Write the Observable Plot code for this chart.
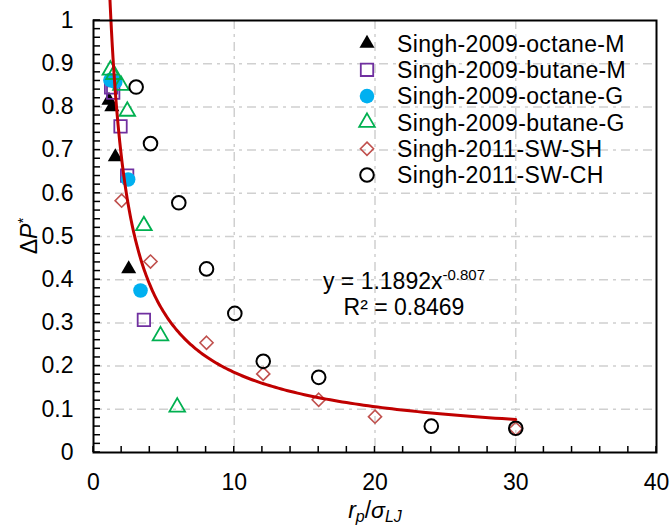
<!DOCTYPE html>
<html>
<head>
<meta charset="utf-8">
<script src="https://cdn.jsdelivr.net/npm/d3@7"></script>
<script src="https://cdn.jsdelivr.net/npm/@observablehq/plot@0.6"></script>
<style>
  body { margin: 0; background: white; }
  #wrap { position: relative; width: 670px; height: 529px; font-family: "Liberation Sans", Arial, sans-serif; }
  #overlay { position: absolute; left: 0; top: 0; pointer-events: none; }
</style>
</head>
<body>
<div id="wrap"></div>
<script>
// ---- data ----
const xTicks = [0, 10, 20, 30, 40];
const yTicks = [0, 0.1, 0.2, 0.3, 0.4, 0.5, 0.6, 0.7, 0.8, 0.9, 1];
const xGrid = [10, 20, 30];
const yGrid = [0.1, 0.2, 0.3, 0.4, 0.5, 0.6, 0.7, 0.8, 0.9];
const xMinor = d3.range(0, 40.001, 2);
const yMinor = d3.range(0, 1.0001, 0.02);

const seriesNames = ["Singh-2009-octane-M", "Singh-2009-butane-M", "Singh-2009-octane-G",
                     "Singh-2009-butane-G", "Singh-2011-SW-SH", "Singh-2011-SW-CH"];
const octaneM = [[1.1, 0.815], [1.3, 0.80], [1.55, 0.684], [2.5, 0.425]];
const butaneM = [[1.25, 0.845], [1.4, 0.833], [1.92, 0.755], [2.39, 0.641], [3.58, 0.307]];
const octaneG = [[1.2, 0.862], [1.55, 0.858], [2.46, 0.632], [3.34, 0.375]];
const butaneG = [[1.2, 0.885], [1.45, 0.875], [1.95, 0.85], [2.4, 0.79], [3.58, 0.525], [4.76, 0.27], [5.95, 0.105]];
const swSH = [[2.0, 0.583], [4.05, 0.442], [8.03, 0.254], [12.06, 0.182], [16.0, 0.122], [20.0, 0.083], [30, 0.055]];
const swCH = [[3.03, 0.846], [4.05, 0.715], [6.06, 0.578], [8.03, 0.425], [10.04, 0.322], [12.06, 0.211], [16, 0.174], [24, 0.061], [30, 0.056]];

// power-law trendline y = a * x^b, shown on the chart
const fitA = 1.1892, fitB = -0.807, fitR2 = 0.8469;
const fitRange = [1.1, 30];

// ---- styles ----
const styles = [
  {symbol: "triangle", fill: "black", stroke: "none", r: 5.6, sw: 0},
  {symbol: "square", fill: "none", stroke: "#7030A0", r: 7.0, sw: 1.8},
  {symbol: "circle", fill: "#00B0F0", stroke: "none", r: 7.3, sw: 0},
  {symbol: "triangle", fill: "none", stroke: "#00B050", r: 5.8, sw: 1.8},
  {symbol: "diamond2", fill: "none", stroke: "#C0504D", r: 5.9, sw: 1.6},
  {symbol: "circle", fill: "none", stroke: "black", r: 6.8, sw: 2}
];
const allSeries = [octaneM, butaneM, octaneG, butaneG, swSH, swCH];

const fitData = d3.range(0, 201).map(i => {
  const x = fitRange[0] * Math.pow(fitRange[1] / fitRange[0], i / 200);
  return [x, fitA * Math.pow(x, fitB)];
});

const gridStyle = {stroke: "#d0d0d0", strokeOpacity: 1, strokeWidth: 1.5, strokeDasharray: "9,5,3,5"};
const FS = 23;

const chart = Plot.plot({
  width: 670, height: 529,
  marginLeft: 93, marginRight: 14, marginTop: 20, marginBottom: 77,
  x: {domain: [0, 40], label: null},
  y: {domain: [0, 1], label: null},
  style: {fontFamily: "'Liberation Sans', Arial, sans-serif", fontSize: FS + "px", color: "#000", background: "white", overflow: "visible"},
  marks: [
    Plot.gridY(yGrid, gridStyle),
    Plot.gridX(xGrid, gridStyle),
    Plot.axisY(yTicks, {tickSize: 0, tickPadding: 20, fontSize: FS, label: null, tickFormat: d => String(d)}),
    Plot.axisX(xTicks, {tickSize: 0, tickPadding: 21, fontSize: FS, label: null, tickFormat: d => String(d)}),
    ...allSeries.map((s, i) => Plot.dot(s, {
      x: d => d[0], y: d => d[1], symbol: styles[i].symbol, r: styles[i].r,
      fill: styles[i].fill, stroke: styles[i].stroke, strokeWidth: styles[i].sw
    })),
    Plot.line(fitData, {x: d => d[0], y: d => d[1], stroke: "#C00000", strokeWidth: 3, curve: "linear"}),
    Plot.frame({stroke: "black", strokeWidth: 2})
  ]
});
document.getElementById("wrap").appendChild(chart);

// ---- overlay: inward minor ticks, legend, equation, axis titles ----
const sx = chart.scale("x"), sy = chart.scale("y");
const ov = d3.select("#wrap").append("svg").attr("id", "overlay")
  .attr("width", 670).attr("height", 529)
  .style("font-family", "'Liberation Sans', Arial, sans-serif");

const x0 = sx.apply(0), y0 = sy.apply(0);
ov.append("g").attr("stroke", "black").attr("stroke-width", 1.5)
  .selectAll("line").data(yMinor).join("line")
  .attr("x1", x0).attr("x2", x0 + 7)
  .attr("y1", d => sy.apply(d)).attr("y2", d => sy.apply(d));
ov.append("g").attr("stroke", "black").attr("stroke-width", 1.5)
  .selectAll("line").data(xMinor).join("line")
  .attr("x1", d => sx.apply(d)).attr("x2", d => sx.apply(d))
  .attr("y1", y0).attr("y2", y0 - 6);

const d3sym = {triangle: d3.symbolTriangle, square: d3.symbolSquare, circle: d3.symbolCircle, diamond2: d3.symbolDiamond2};
seriesNames.forEach((name, i) => {
  const cy = 43.5 + i * 26.3;
  const st = styles[i];
  ov.append("path")
    .attr("transform", `translate(367,${cy})`)
    .attr("d", d3.symbol(d3sym[st.symbol], Math.PI * st.r * st.r)())
    .attr("fill", st.fill).attr("stroke", st.stroke).attr("stroke-width", st.sw);
  ov.append("text").attr("x", 397).attr("y", cy).attr("dy", "0.36em")
    .attr("font-size", FS).attr("letter-spacing", "0.35px").attr("fill", "#000").text(name);
});

// equation
const eq = ov.append("text").attr("x", 404).attr("y", 289).attr("text-anchor", "middle")
  .attr("font-size", FS).attr("fill", "#000");
eq.append("tspan").text(`y = ${fitA}x`);
eq.append("tspan").attr("font-size", 15).attr("dy", -9).text(String(fitB));
ov.append("text").attr("x", 404).attr("y", 315).attr("text-anchor", "middle")
  .attr("font-size", FS).attr("fill", "#000").text(`R² = ${fitR2}`);

// x title
const xt = ov.append("text").attr("x", 375).attr("y", 518).attr("text-anchor", "middle")
  .attr("font-size", FS).attr("fill", "#000");
xt.append("tspan").attr("font-style", "italic").text("r");
xt.append("tspan").attr("font-style", "italic").attr("font-size", 16).attr("dy", 4).text("p");
xt.append("tspan").attr("dy", -4).text("/");
xt.append("tspan").attr("font-style", "italic").text("σ");
xt.append("tspan").attr("font-style", "italic").attr("font-size", 16).attr("dy", 4).text("LJ");

// y title
const yt = ov.append("text").attr("transform", "translate(37,236) rotate(-90)")
  .attr("text-anchor", "middle").attr("font-size", FS).attr("fill", "#000");
yt.append("tspan").text("Δ");
yt.append("tspan").attr("font-style", "italic").text("P");
yt.append("tspan").attr("font-size", 15).attr("dy", -9).text("*");
</script>
</body>
</html>
